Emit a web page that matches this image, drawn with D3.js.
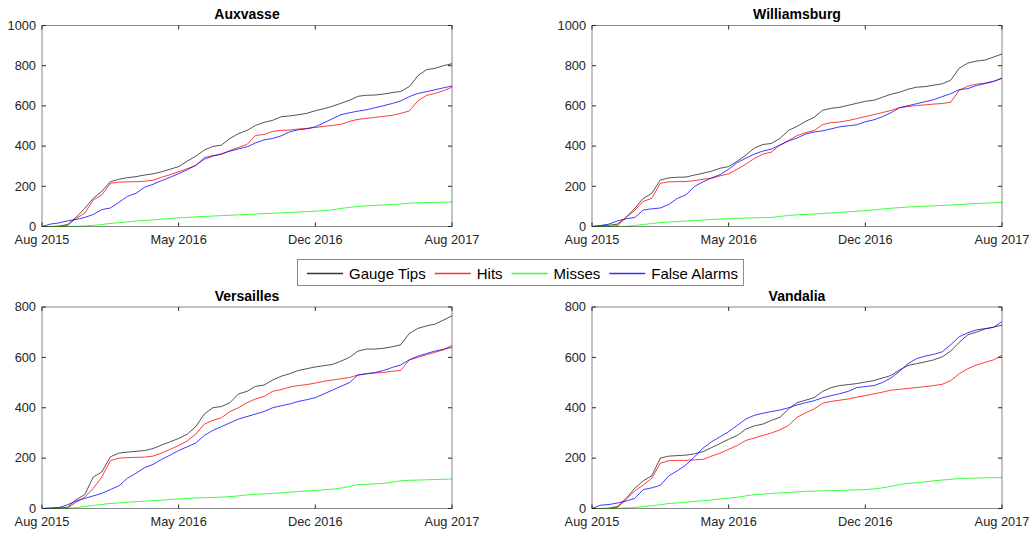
<!DOCTYPE html>
<html>
<head>
<meta charset="utf-8">
<script src="https://cdn.jsdelivr.net/npm/d3@7"></script>
<style>
  body { margin: 0; background: #fff; }
  text { font-family: "Liberation Sans", Arial, sans-serif; fill: #262626; }
</style>
</head>
<body>
<div id="chart"></div>
<script>
// sample grid: months since Aug 2015, every half month
const months = d3.range(0, 24.5, 0.5);
const tickMonths = [0, 8, 16, 24];
const tickLabels = ['Aug 2015', 'May 2016', 'Dec 2016', 'Aug 2017'];
const seriesNames = ['Gauge Tips', 'Hits', 'Misses', 'False Alarms'];
const seriesColors = ['#000000', '#ff0000', '#00ff00', '#0000ff'];

// Auxvasse
const auxTips = [0, 0, 2, 10, 46, 90, 140, 175, 223, 235, 243, 248, 256, 262, 272, 285, 298, 325, 350, 380, 398, 405, 438, 462, 478, 503, 518, 528, 546, 550, 556, 563, 576, 586, 598, 613, 628, 648, 653, 654, 659, 666, 672, 696, 750, 780, 787, 800, 810];
const auxHits = [0, 0, 0, 5, 41, 66, 132, 157, 215, 221, 222, 223, 225, 230, 245, 258, 272, 288, 303, 343, 353, 358, 378, 393, 408, 453, 458, 473, 478, 480, 485, 488, 493, 498, 503, 508, 523, 533, 538, 543, 548, 553, 563, 575, 625, 652, 662, 676, 693];
const auxMisses = [0, 0, 0, 0, 1, 3, 6, 10, 15, 19, 23, 27, 30, 33, 37, 40, 43, 45, 48, 50, 52, 54, 56, 58, 60, 62, 64, 66, 68, 70, 72, 74, 76, 79, 83, 90, 95, 100, 103, 105, 107, 110, 112, 116, 118, 119, 120, 121, 122];
const auxFalse = [0, 12, 18, 28, 35, 45, 60, 84, 92, 120, 150, 165, 195, 210, 228, 245, 263, 282, 305, 335, 350, 362, 375, 386, 396, 416, 431, 438, 451, 471, 481, 486, 496, 516, 536, 556, 566, 574, 581, 591, 601, 612, 625, 646, 662, 671, 680, 690, 699];

// Williamsburg
const wilTips = [0, 3, 6, 12, 46, 90, 140, 165, 231, 242, 245, 246, 256, 265, 275, 290, 298, 325, 355, 390, 408, 413, 438, 478, 498, 523, 543, 578, 588, 593, 603, 613, 623, 628, 643, 658, 668, 683, 693, 696, 703, 710, 728, 788, 813, 823, 828, 843, 858];
const wilHits = [0, 0, 0, 5, 45, 80, 125, 140, 215, 222, 223, 224, 228, 235, 240, 252, 262, 285, 310, 338, 360, 370, 405, 428, 452, 467, 477, 507, 517, 520, 527, 537, 547, 557, 567, 577, 592, 597, 602, 605, 609, 612, 618, 678, 698, 708, 713, 723, 737];
const wilMisses = [0, 0, 0, 0, 1, 5, 10, 15, 19, 22, 25, 27, 30, 32, 35, 37, 40, 41, 42, 43, 44, 45, 50, 55, 58, 60, 62, 65, 67, 70, 73, 76, 79, 83, 87, 91, 94, 97, 99, 101, 103, 105, 107, 109, 112, 114, 116, 118, 120];
const wilFalse = [0, 5, 12, 28, 38, 45, 82, 88, 92, 110, 140, 157, 200, 222, 242, 258, 285, 318, 340, 360, 375, 385, 405, 425, 440, 460, 470, 476, 486, 496, 501, 506, 521, 531, 546, 566, 591, 601, 611, 621, 631, 646, 661, 681, 686, 701, 711, 721, 738];

// Versailles
const verTips = [0, 1, 2, 5, 35, 55, 125, 145, 205, 220, 224, 227, 230, 238, 252, 265, 278, 295, 325, 375, 400, 405, 420, 455, 465, 485, 490, 510, 525, 535, 548, 555, 562, 567, 572, 585, 600, 625, 633, 633, 636, 642, 650, 695, 715, 725, 732, 748, 765];
const verHits = [0, 0, 0, 3, 25, 45, 80, 125, 190, 200, 202, 203, 204, 208, 220, 235, 250, 268, 295, 335, 350, 360, 385, 400, 420, 435, 445, 465, 472, 482, 488, 492, 498, 505, 510, 515, 520, 530, 535, 538, 540, 545, 548, 590, 600, 610, 620, 630, 648];
const verMisses = [0, 0, 0, 1, 3, 8, 12, 16, 20, 22, 25, 27, 29, 31, 33, 36, 38, 40, 42, 43, 44, 45, 47, 50, 54, 56, 58, 60, 62, 65, 67, 70, 72, 74, 77, 81, 87, 95, 96, 98, 100, 104, 110, 112, 113, 114, 115, 116, 117];
const verFalse = [0, 2, 4, 15, 30, 40, 50, 60, 75, 90, 120, 140, 162, 175, 195, 212, 230, 245, 260, 290, 310, 325, 340, 355, 365, 375, 385, 400, 408, 415, 425, 432, 440, 455, 470, 485, 500, 530, 535, 540, 548, 560, 570, 590, 605, 615, 625, 632, 640];

// Vandalia
const vanTips = [0, 0, 1, 8, 40, 80, 110, 130, 200, 208, 210, 212, 217, 226, 242, 258, 275, 290, 315, 328, 335, 350, 362, 395, 420, 430, 440, 465, 480, 488, 492, 496, 502, 508, 518, 528, 550, 568, 575, 582, 590, 602, 625, 660, 690, 700, 713, 720, 728];
const vanHits = [0, 0, 0, 5, 36, 70, 93, 120, 180, 190, 191, 191, 193, 195, 208, 220, 235, 250, 270, 280, 290, 300, 312, 330, 362, 380, 395, 418, 425, 430, 435, 442, 448, 455, 462, 470, 473, 477, 480, 484, 488, 493, 508, 535, 555, 570, 580, 590, 608];
const vanMisses = [0, 0, 0, 1, 2, 4, 8, 11, 15, 20, 22, 25, 28, 31, 34, 38, 41, 45, 50, 55, 57, 60, 62, 64, 66, 68, 69, 70, 71, 72, 73, 74, 75, 78, 82, 88, 95, 100, 102, 106, 110, 113, 116, 119, 120, 121, 122, 122, 123];
const vanFalse = [0, 13, 16, 22, 30, 40, 75, 82, 92, 130, 150, 173, 205, 240, 265, 285, 305, 330, 355, 370, 378, 385, 391, 400, 411, 420, 428, 440, 448, 456, 465, 480, 484, 488, 500, 518, 545, 575, 595, 605, 612, 622, 650, 682, 698, 709, 714, 719, 742];

const sites = ['Auxvasse', 'Williamsburg', 'Versailles', 'Vandalia'];
const siteSeries = [
  [auxTips, auxHits, auxMisses, auxFalse],
  [wilTips, wilHits, wilMisses, wilFalse],
  [verTips, verHits, verMisses, verFalse],
  [vanTips, vanHits, vanMisses, vanFalse]
];
const yMaxes = [1000, 1000, 800, 800];

const width = 1033, height = 535;
const svg = d3.select('#chart').append('svg')
  .attr('width', width)
  .attr('height', height);

// axes boxes, MATLAB subplot layout
const boxes = [
  { left: 42, top: 25.5, w: 410, h: 201 },
  { left: 592, top: 25.5, w: 410, h: 201 },
  { left: 42, top: 307, w: 410, h: 201.5 },
  { left: 592, top: 307, w: 410, h: 201.5 }
];

sites.forEach((site, i) => {
  const b = boxes[i];
  const g = svg.append('g').attr('transform', 'translate(' + b.left + ',' + b.top + ')');

  const x = d3.scaleLinear().domain([0, 24]).range([0, b.w]);
  const y = d3.scaleLinear().domain([0, yMaxes[i]]).range([b.h, 0]);
  const yTicks = d3.range(0, yMaxes[i] + 1, 200);

  // series
  const line = d3.line()
    .x((d, k) => x(months[k]))
    .y(d => y(d));

  siteSeries[i].forEach((vals, s) => {
    g.append('path')
      .datum(vals)
      .attr('d', line)
      .attr('fill', 'none')
      .attr('stroke', seriesColors[s])
      .attr('stroke-width', 0.9)
      .attr('stroke-opacity', s === 0 ? 0.75 : 0.85)
      .attr('stroke-linejoin', 'round');
  });

  // box
  g.append('rect')
    .attr('x', 0).attr('y', 0)
    .attr('width', b.w).attr('height', b.h)
    .attr('fill', 'none')
    .attr('stroke', '#262626')
    .attr('stroke-opacity', 0.55)
    .attr('stroke-width', 1);

  // inward ticks, all four sides
  const tl = 4;
  tickMonths.forEach(m => {
    const px = x(m);
    g.append('line').attr('x1', px).attr('x2', px).attr('y1', b.h).attr('y2', b.h - tl)
      .attr('stroke', '#262626');
    g.append('line').attr('x1', px).attr('x2', px).attr('y1', 0).attr('y2', tl)
      .attr('stroke', '#262626');
  });
  yTicks.forEach(v => {
    const py = y(v);
    g.append('line').attr('x1', 0).attr('x2', tl).attr('y1', py).attr('y2', py)
      .attr('stroke', '#262626');
    g.append('line').attr('x1', b.w - tl).attr('x2', b.w).attr('y1', py).attr('y2', py)
      .attr('stroke', '#262626');
  });

  // tick labels
  g.selectAll('.xl').data(tickMonths).join('text')
    .attr('x', d => x(d))
    .attr('y', b.h + 17.5)
    .attr('text-anchor', 'middle')
    .style('font-size', '12.8px')
    .text((d, k) => tickLabels[k]);

  g.selectAll('.yl').data(yTicks).join('text')
    .attr('x', -6)
    .attr('y', d => y(d) + 4.3)
    .attr('text-anchor', 'end')
    .style('font-size', '12.8px')
    .text(d => d);

  // title
  g.append('text')
    .attr('x', b.w / 2)
    .attr('y', -6.5)
    .attr('text-anchor', 'middle')
    .style('font-size', '14px')
    .style('font-weight', 'bold')
    .style('fill', '#000')
    .text(site);
});

// legend
const legend = svg.append('g');
const legBox = legend.append('rect')
  .attr('fill', '#fff')
  .attr('stroke', '#262626')
  .attr('stroke-opacity', 0.55);
let cx = 307;
const ly = 273.5;
seriesNames.forEach((name, s) => {
  legend.append('rect')
    .attr('x', cx).attr('y', ly - 0.75)
    .attr('width', 36).attr('height', 1.5)
    .attr('fill', seriesColors[s])
    .attr('fill-opacity', 0.8);
  const t = legend.append('text')
    .attr('x', cx + 42)
    .attr('y', ly + 5)
    .style('font-size', '15px')
    .style('fill', '#000')
    .text(name);
  cx += 42 + t.node().getComputedTextLength() + 9;
});
legBox.attr('x', 297.5).attr('y', 259.5)
  .attr('width', cx - 297 - 4).attr('height', 26);
</script>
</body>
</html>
